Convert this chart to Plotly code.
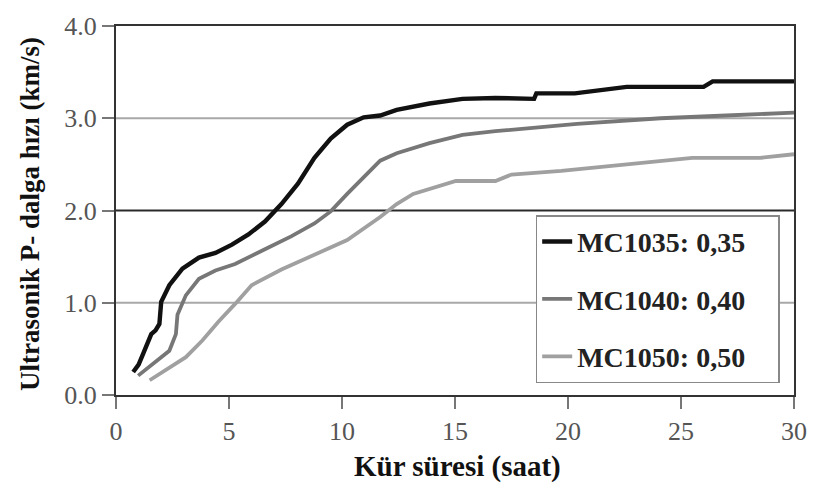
import plotly.graph_objects as go

# Data
x_mc1035 = [0.76, 1.0, 1.19, 1.4, 1.56, 1.75, 1.92, 2.0, 2.36, 2.94, 3.67, 4.4, 5.13, 5.86, 6.59, 7.32, 8.05, 8.78, 9.5,
            10.23, 10.96, 11.69, 12.42, 13.87, 15.33, 16.79, 18.5, 18.6, 20.3, 22.6, 26.0, 26.4, 30.0]
y_mc1035 = [0.25, 0.33, 0.44, 0.55, 0.66, 0.70, 0.77, 1.01, 1.19, 1.37, 1.49, 1.54, 1.63, 1.74, 1.88, 2.07, 2.29, 2.57, 2.78,
            2.93, 3.01, 3.03, 3.09, 3.16, 3.21, 3.22, 3.21, 3.27, 3.27, 3.34, 3.34, 3.40, 3.40]

x_mc1040 = [0.98, 1.63, 2.36, 2.65, 2.72, 3.09, 3.67, 4.4, 5.27, 6.59, 7.75, 8.78, 9.5, 10.23, 10.96,
            11.69, 12.42, 13.87, 15.33, 16.79, 20.4, 24.1, 27.0, 30.0]
y_mc1040 = [0.21, 0.34, 0.48, 0.66, 0.87, 1.08, 1.26, 1.35, 1.42, 1.58, 1.72, 1.86, 1.99, 2.18, 2.36,
            2.54, 2.62, 2.73, 2.82, 2.86, 2.94, 3.00, 3.03, 3.06]

x_mc1050 = [1.49, 2.22, 3.09, 3.82, 4.55, 5.28, 6.0, 7.32, 8.78, 10.23, 11.69, 12.42, 13.15, 13.87,
            15.04, 16.79, 17.5, 19.7, 22.6, 25.5, 28.5, 30.0]
y_mc1050 = [0.16, 0.27, 0.41, 0.59, 0.80, 0.99, 1.19, 1.36, 1.52, 1.68, 1.93, 2.07, 2.18, 2.23,
            2.32, 2.32, 2.39, 2.43, 2.50, 2.57, 2.57, 2.61]

names = ["MC1035: 0,35", "MC1040: 0,40", "MC1050: 0,50"]
x_ticks = [0, 5, 10, 15, 20, 25, 30]
y_ticks = [0.0, 1.0, 2.0, 3.0, 4.0]
y_tick_text = ["0.0", "1.0", "2.0", "3.0", "4.0"]
grid_vals = [1.0, 2.0, 3.0]
grid_colors = ["#a8a8a8", "#2a2a2a", "#a8a8a8"]

serif = "Liberation Serif, Times New Roman, serif"
pad = "\u00a0" * 4  # widen legend box like the reference

fig = go.Figure()
series = [(x_mc1035, y_mc1035, "#111111", 4.4),
          (x_mc1040, y_mc1040, "#777777", 3.8),
          (x_mc1050, y_mc1050, "#a0a0a0", 3.8)]
for i, (xs, ys, col, w) in enumerate(series):
    fig.add_trace(go.Scatter(x=xs, y=ys, mode="lines", name=names[i] + pad, legendgroup=f"g{i}",
                             line=dict(color=col, width=w)))

for gv, gc in zip(grid_vals, grid_colors):
    fig.add_shape(type="line", xref="paper", yref="y", x0=0, x1=1, y0=gv, y1=gv,
                  line=dict(color=gc, width=2), layer="below")

fig.update_layout(
    width=819, height=495,
    margin=dict(l=116, r=17, t=19, b=100),
    paper_bgcolor="white", plot_bgcolor="white",
    font=dict(family=serif, color="#555555", size=26),
    showlegend=True,
    legend=dict(x=0.619, y=0.487, xanchor="left", yanchor="top",
                bgcolor="white", bordercolor="#888888", borderwidth=1.5,
                font=dict(family=serif, size=28, color="#222222", weight="bold"),
                tracegroupgap=18, traceorder="grouped", itemwidth=30),
    xaxis=dict(range=[0, 30], tickvals=x_ticks, showgrid=False, zeroline=False,
               showline=True, linecolor="#333333", linewidth=2, mirror=True,
               ticks="outside", ticklen=12, tickcolor="#777777", tickwidth=1.5,
               tickfont=dict(family=serif, size=26, color="#555555")),
    yaxis=dict(range=[0, 4], tickvals=y_ticks, ticktext=y_tick_text, showgrid=False,
               zeroline=False,
               showline=True, linecolor="#333333", linewidth=2, mirror=True,
               ticks="outside", ticklen=12, tickcolor="#777777", tickwidth=1.5,
               tickfont=dict(family=serif, size=26, color="#555555")),
    annotations=[
        dict(text="Kür süresi (saat)", xref="paper", yref="paper", x=0.504, y=-0.195,
             xanchor="center", yanchor="middle", showarrow=False,
             font=dict(family=serif, size=29, color="#111111", weight="bold")),
        dict(text="Ultrasonik P- dalga hızı (km/s)", xref="paper", yref="paper", x=-0.127, y=0.49,
             xanchor="center", yanchor="middle", showarrow=False, textangle=-90,
             font=dict(family=serif, size=27, color="#111111", weight="bold")),
    ],
)

fig.write_html("out.html")
